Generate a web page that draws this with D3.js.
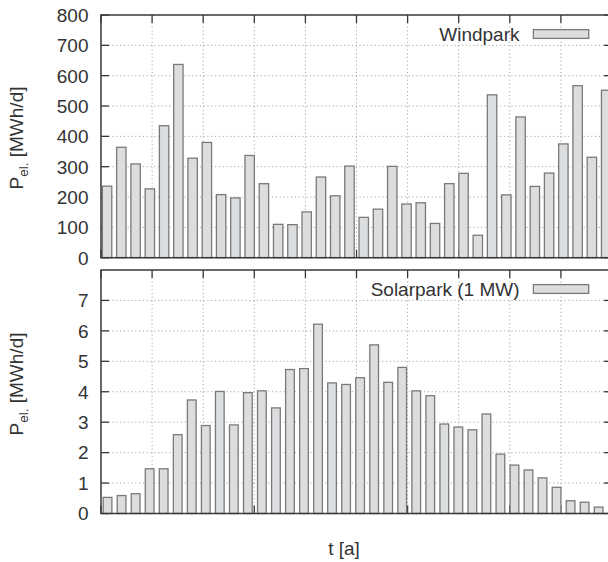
<!DOCTYPE html>
<html><head><meta charset="utf-8">
<script src="https://cdn.jsdelivr.net/npm/d3@7"></script>
<style>
body{margin:0;background:#fff;}
text{font-family:"Liberation Sans",Arial,Helvetica,sans-serif;fill:#333;}
</style></head>
<body><svg id="chart" width="608" height="562"></svg>
<script>
const periods = ["1","2","3","4","5","6","7","8","9","10","11","12","13","14","15","16","17","18",
                 "19","20","21","22","23","24","25","26","27","28","29","30","31","32","33","34","35","36"];
const windValues = [236, 364, 309, 227, 435, 637, 328, 380, 208, 197, 337, 244, 110, 109, 151, 266, 204, 302,
                    133, 160, 301, 177, 181, 113, 244, 278, 74, 537, 207, 464, 235, 279, 375, 567, 331, 552];
const solarValues = [0.53, 0.59, 0.65, 1.47, 1.47, 2.59, 3.73, 2.89, 4.01, 2.91, 3.97, 4.03, 3.47, 4.73, 4.76, 6.22, 4.29, 4.24,
                     4.46, 5.54, 4.31, 4.80, 4.03, 3.87, 2.94, 2.84, 2.75, 3.27, 1.95, 1.59, 1.43, 1.17, 0.86, 0.42, 0.37, 0.21];
const windTicks = [0, 100, 200, 300, 400, 500, 600, 700, 800];
const solarTicks = [0, 1, 2, 3, 4, 5, 6, 7];
const timeTicks = [0, 1, 2, 3, 4, 5, 6, 7, 8, 9, 10];
const windLabel = "Windpark";
const solarLabel = "Solarpark (1 MW)";
const yTitleMain = "P", yTitleSub = "el.", yTitleUnit = " [MWh/d]";
const xTitle = "t [a]";

const svg = d3.select("#chart");
const L = 101, R = 612;
const xg = d3.scaleLinear().domain([0, 10]).range([L, R]);

const panels = [
  {values: windValues, ticks: windTicks, yMax: 800, top: 15, bottom: 257.7, legend: windLabel,
   xRange: [101, 612.2], pi: 0.34, po: 0.095, titleY: 138},
  {values: solarValues, ticks: solarTicks, yMax: 8, top: 270, bottom: 513.5, legend: solarLabel,
   xRange: [101, 605.2], pi: 0.38, po: 0.157, titleY: 384}
];

const gridColor = "#a8a8a8", frameColor = "#383838", barFill = "#dcdddf", barStroke = "#7a7a7a";

panels.forEach(p => {
  const g = svg.append("g");
  const y = d3.scaleLinear().domain([0, p.yMax]).range([p.bottom, p.top]);
  const x = d3.scaleBand().domain(periods).range(p.xRange).paddingInner(p.pi).paddingOuter(p.po);

  // grid
  g.selectAll(".hg").data(p.ticks.filter(t => t > 0 && t < p.yMax)).enter().append("line")
    .attr("x1", L).attr("x2", R).attr("y1", d => y(d)).attr("y2", d => y(d))
    .attr("stroke", gridColor).attr("stroke-width", 1).attr("stroke-dasharray", "1.2,2.6");
  g.selectAll(".vg").data(timeTicks.slice(1, -1)).enter().append("line")
    .attr("x1", d => xg(d)).attr("x2", d => xg(d)).attr("y1", p.top).attr("y2", p.bottom)
    .attr("stroke", gridColor).attr("stroke-width", 1).attr("stroke-dasharray", "1.2,2.6");

  // ticks (inward, mirrored)
  const tk = 8;
  g.selectAll(".lt").data(p.ticks).enter().append("line")
    .attr("x1", L).attr("x2", L + tk).attr("y1", d => y(d)).attr("y2", d => y(d))
    .attr("stroke", frameColor).attr("stroke-width", 1.3);
  g.selectAll(".rt").data(p.ticks).enter().append("line")
    .attr("x1", R - tk).attr("x2", R).attr("y1", d => y(d)).attr("y2", d => y(d))
    .attr("stroke", frameColor).attr("stroke-width", 1.3);
  g.selectAll(".tt").data(timeTicks).enter().append("line")
    .attr("x1", d => xg(d)).attr("x2", d => xg(d)).attr("y1", p.top).attr("y2", p.top + tk)
    .attr("stroke", frameColor).attr("stroke-width", 1.3);
  g.selectAll(".bt").data(timeTicks).enter().append("line")
    .attr("x1", d => xg(d)).attr("x2", d => xg(d)).attr("y1", p.bottom).attr("y2", p.bottom - tk)
    .attr("stroke", frameColor).attr("stroke-width", 1.3);

  // bars
  g.selectAll(".bar").data(p.values).enter().append("rect")
    .attr("x", (d, i) => x(periods[i]))
    .attr("width", x.bandwidth())
    .attr("y", d => y(d))
    .attr("height", d => y(0) - y(d))
    .attr("fill", barFill).attr("stroke", barStroke).attr("stroke-width", 1.3);

  // frame
  g.append("rect").attr("x", L).attr("y", p.top).attr("width", R - L).attr("height", p.bottom - p.top)
    .attr("fill", "none").attr("stroke", frameColor).attr("stroke-width", 1.5);

  // tick labels
  g.selectAll(".tl").data(p.ticks).enter().append("text")
    .attr("x", 88.5).attr("y", d => y(d)).attr("dy", "0.36em")
    .attr("text-anchor", "end").attr("font-size", 19).text(d => d);

  // legend
  g.append("text").attr("x", 519.5).attr("y", p.top + 26).attr("text-anchor", "end")
    .attr("font-size", 19).text(p.legend);
  g.append("rect").attr("x", 533.4).attr("y", p.top + 14.6).attr("width", 55.3).attr("height", 8.8)
    .attr("fill", barFill).attr("stroke", barStroke).attr("stroke-width", 1.3);

  // y title
  const t = g.append("text").attr("transform", `translate(23,${p.titleY}) rotate(-90)`)
    .attr("text-anchor", "middle").attr("font-size", 19);
  t.append("tspan").text(yTitleMain);
  t.append("tspan").attr("font-size", 13.5).attr("dy", 4.5).text(yTitleSub);
  t.append("tspan").attr("dy", -4.5).text(yTitleUnit);
});

svg.append("text").attr("x", 344).attr("y", 555).attr("text-anchor", "middle")
  .attr("font-size", 19).text(xTitle);
</script></body></html>
